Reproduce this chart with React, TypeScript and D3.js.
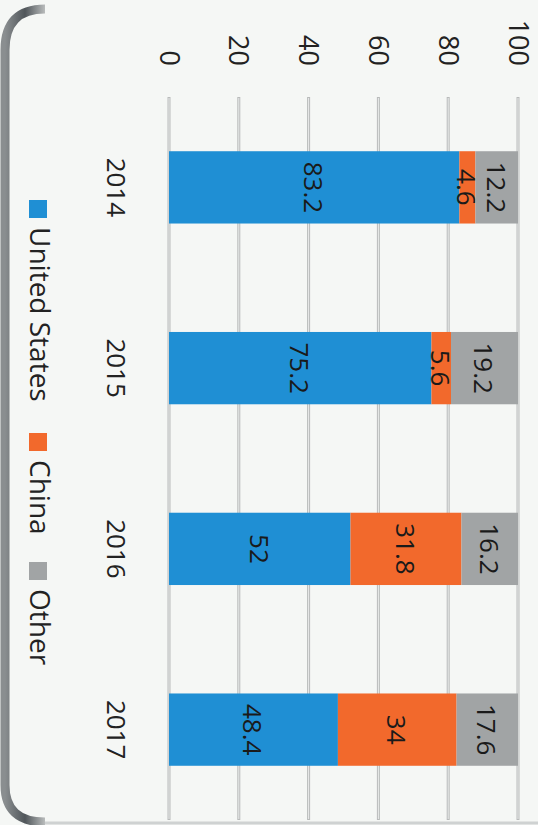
import React from 'react';
import * as d3 from 'd3';

const years = ['2014', '2015', '2016', '2017'];
const seriesNames = ['United States', 'China', 'Other'];
const unitedStates = [83.2, 75.2, 52, 48.4];
const china = [4.6, 5.6, 31.8, 34];
const other = [12.2, 19.2, 16.2, 17.6];
const ticks = [0, 20, 40, 60, 80, 100];

const COLORS = ['#1f8fd4', '#f2692c', '#a1a4a5'];
const WIDTH = 538;
const HEIGHT = 825;
const FONT = '"Open Sans", "Liberation Sans", sans-serif';

const rows = years.map((year, i) => ({
  year,
  'United States': unitedStates[i],
  China: china[i],
  Other: other[i],
}));

// chart is printed rotated a quarter turn clockwise
const rot = (x: number, y: number) => `translate(${x},${y}) rotate(90)`;

export default function App() {
  const x = d3.scaleLinear().domain([0, 100]).range([169, 518]);
  const y = d3
    .scaleBand()
    .domain(years)
    .range([97, 820])
    .paddingInner(0.6)
    .paddingOuter(0.3);

  const stack = d3.stack<any>().keys(seriesNames)(rows);
  const color = d3.scaleOrdinal<string, string>().domain(seriesNames).range(COLORS);

  const legendY = [200, 433, 562];

  return (
    <div style={{ position: 'fixed', left: 0, top: 0 }}>
      <svg width={WIDTH} height={HEIGHT} style={{ display: 'block' }} fontFamily={FONT}>
        <defs>
          <linearGradient id="edge" x1="0" x2="1" y1="0" y2="0">
            <stop offset="0" stopColor="#8a8e90" />
            <stop offset="0.5" stopColor="#50565a" />
            <stop offset="1" stopColor="#b9bcbc" />
          </linearGradient>
        </defs>
        <rect width={WIDTH} height={HEIGHT} fill="#f5f7f5" />
        <path
          d="M 45,9 Q 5,9 5,50 L 5,785 Q 5,822 45,822"
          fill="none"
          stroke="url(#edge)"
          strokeWidth={9}
        />
        <line x1={45} x2={WIDTH} y1={823} y2={823} stroke="#cfd2d2" strokeWidth={3} />

        {/* grid */}
        <g>
          {ticks.map((t) => (
            <g key={t}>
              <line x1={x(t)} x2={x(t)} y1={97} y2={820} stroke="#b9bbbb" strokeWidth={3} />
              <line x1={x(t)} x2={x(t)} y1={98} y2={819} stroke="#e9ebea" strokeWidth={1} />
            </g>
          ))}
        </g>

        {/* axis labels */}
        <g fontSize={27} fill="#222" textAnchor="end" dominantBaseline="central">
          {ticks.map((t) => (
            <text key={t} transform={rot(x(t) + 1, 66)}>
              {t}
            </text>
          ))}
        </g>

        {/* bars */}
        {stack.map((s) => (
          <g key={s.key} fill={color(s.key)}>
            {s.map((d, i) => (
              <rect
                key={i}
                x={x(d[0])}
                width={x(d[1]) - x(d[0])}
                y={y(years[i])}
                height={y.bandwidth()}
              />
            ))}
          </g>
        ))}

        {/* value labels */}
        <g fontSize={26} fill="#1a1a1a" textAnchor="middle" dominantBaseline="central">
          {stack.map((s) =>
            s.map((d, i) => (
              <text
                key={s.key + i}
                transform={rot((x(d[0]) + x(d[1])) / 2, y(years[i])! + y.bandwidth() / 2)}
              >
                {String(d.data[s.key])}
              </text>
            ))
          )}
        </g>

        {/* year labels */}
        <g fontSize={26} fill="#222" textAnchor="middle" dominantBaseline="central">
          {years.map((yr) => (
            <text key={yr} transform={rot(117, y(yr)! + y.bandwidth() / 2)}>
              {yr}
            </text>
          ))}
        </g>

        {/* legend */}
        <g fontSize={28} fill="#222" dominantBaseline="central">
          {seriesNames.map((n, i) => (
            <g key={n}>
              <rect x={29} y={legendY[i]} width={18} height={18} fill={color(n)} />
              <text transform={rot(41, legendY[i] + 27)}>{n}</text>
            </g>
          ))}
        </g>
      </svg>
    </div>
  );
}
